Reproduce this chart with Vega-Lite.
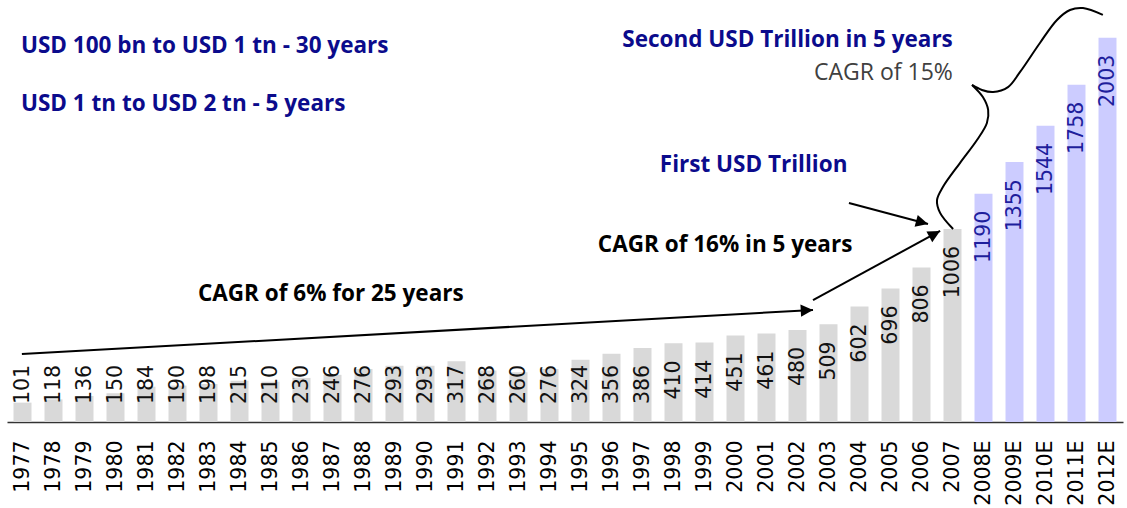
{
  "$schema": "https://vega.github.io/schema/vega-lite/v6.json",
  "width": 1116,
  "height": 422,
  "autosize": {"type": "none"},
  "padding": {"left": 7, "right": 4, "top": 0, "bottom": 86},
  "background": "white",
  "config": {"view": {"stroke": null}, "font": "Open Sans"},
  "datasets": {
    "bars": [
      {"year": "1977", "value": 101, "type": "actual"},
      {"year": "1978", "value": 118, "type": "actual"},
      {"year": "1979", "value": 136, "type": "actual"},
      {"year": "1980", "value": 150, "type": "actual"},
      {"year": "1981", "value": 184, "type": "actual"},
      {"year": "1982", "value": 190, "type": "actual"},
      {"year": "1983", "value": 198, "type": "actual"},
      {"year": "1984", "value": 215, "type": "actual"},
      {"year": "1985", "value": 210, "type": "actual"},
      {"year": "1986", "value": 230, "type": "actual"},
      {"year": "1987", "value": 246, "type": "actual"},
      {"year": "1988", "value": 276, "type": "actual"},
      {"year": "1989", "value": 293, "type": "actual"},
      {"year": "1990", "value": 293, "type": "actual"},
      {"year": "1991", "value": 317, "type": "actual"},
      {"year": "1992", "value": 268, "type": "actual"},
      {"year": "1993", "value": 260, "type": "actual"},
      {"year": "1994", "value": 276, "type": "actual"},
      {"year": "1995", "value": 324, "type": "actual"},
      {"year": "1996", "value": 356, "type": "actual"},
      {"year": "1997", "value": 386, "type": "actual"},
      {"year": "1998", "value": 410, "type": "actual"},
      {"year": "1999", "value": 414, "type": "actual"},
      {"year": "2000", "value": 451, "type": "actual"},
      {"year": "2001", "value": 461, "type": "actual"},
      {"year": "2002", "value": 480, "type": "actual"},
      {"year": "2003", "value": 509, "type": "actual"},
      {"year": "2004", "value": 602, "type": "actual"},
      {"year": "2005", "value": 696, "type": "actual"},
      {"year": "2006", "value": 806, "type": "actual"},
      {"year": "2007", "value": 1006, "type": "actual"},
      {"year": "2008E", "value": 1190, "type": "estimate"},
      {"year": "2009E", "value": 1355, "type": "estimate"},
      {"year": "2010E", "value": 1544, "type": "estimate"},
      {"year": "2011E", "value": 1758, "type": "estimate"},
      {"year": "2012E", "value": 2003, "type": "estimate"}
    ],
    "notes": [
      {"group": "summary", "text": "USD 100 bn to USD 1 tn - 30 years", "x": 1976.95, "y": 1924},
      {"group": "summary", "text": "USD 1 tn to USD 2 tn - 5 years", "x": 1976.95, "y": 1623},
      {"group": "second", "text": "Second USD Trillion in 5 years", "x": 2007.01, "y": 1953},
      {"group": "second_cagr", "text": "CAGR of 15%", "x": 2007.01, "y": 1783},
      {"group": "summary", "text": "First USD Trillion", "x": 1997.56, "y": 1305},
      {"group": "cagr", "text": "CAGR of 16% in 5 years", "x": 1995.56, "y": 888},
      {"group": "cagr", "text": "CAGR of 6% for 25 years", "x": 1982.66, "y": 632}
    ],
    "strokes": [
      {"path": "a1", "i": 0, "x": 1976.98, "y": 354},
      {"path": "a1", "i": 1, "x": 2002.5, "y": 584},
      {"path": "a2", "i": 0, "x": 2002.5, "y": 636},
      {"path": "a2", "i": 1, "x": 2006.6, "y": 996},
      {"path": "a3", "i": 0, "x": 2003.66, "y": 1142},
      {"path": "a3", "i": 1, "x": 2006.21, "y": 1032},
      {"path": "brace_low", "i": 0, "x": 2007.02, "y": 1006},
      {"path": "brace_low", "i": 1, "x": 2006.6, "y": 1090},
      {"path": "brace_low", "i": 2, "x": 2006.5, "y": 1157},
      {"path": "brace_low", "i": 3, "x": 2006.69, "y": 1225},
      {"path": "brace_low", "i": 4, "x": 2007.24, "y": 1350},
      {"path": "brace_low", "i": 5, "x": 2007.79, "y": 1470},
      {"path": "brace_low", "i": 6, "x": 2008.11, "y": 1559},
      {"path": "brace_low", "i": 7, "x": 2008.15, "y": 1627},
      {"path": "brace_low", "i": 8, "x": 2007.98, "y": 1694},
      {"path": "brace_low", "i": 9, "x": 2007.63, "y": 1757},
      {"path": "brace_up", "i": 0, "x": 2007.63, "y": 1757},
      {"path": "brace_up", "i": 1, "x": 2007.95, "y": 1731},
      {"path": "brace_up", "i": 2, "x": 2008.31, "y": 1720},
      {"path": "brace_up", "i": 3, "x": 2008.79, "y": 1746},
      {"path": "brace_up", "i": 4, "x": 2009.18, "y": 1825},
      {"path": "brace_up", "i": 5, "x": 2009.82, "y": 1976},
      {"path": "brace_up", "i": 6, "x": 2010.37, "y": 2096},
      {"path": "brace_up", "i": 7, "x": 2010.79, "y": 2148},
      {"path": "brace_up", "i": 8, "x": 2011.21, "y": 2158},
      {"path": "brace_up", "i": 9, "x": 2011.85, "y": 2122}
    ]
  },
  "layer": [
    {
      "data": {"name": "bars"},
      "encoding": {
        "x": {
          "field": "year", "type": "ordinal", "sort": null,
          "scale": {"paddingInner": 0.42, "paddingOuter": 0.21},
          "axis": {
            "title": null, "labelAngle": -90, "labelFont": "DejaVu Sans", "labelFontSize": 20.5,
            "labelColor": "#000000", "ticks": false, "labelPadding": 18,
            "domainColor": "#333333", "domainWidth": 1.5, "grid": false
          }
        }
      },
      "layer": [
        {
          "mark": {"type": "bar"},
          "encoding": {
            "y": {"field": "value", "type": "quantitative", "scale": {"domain": [0, 2200], "nice": false}, "axis": null},
            "color": {"field": "type", "type": "nominal", "scale": {"domain": ["actual", "estimate"], "range": ["#D9D9D9", "#CCCCFF"]}, "legend": null}
          }
        },
        {
          "transform": [{"filter": "datum.value >= 400"}],
          "mark": {"type": "text", "angle": 270, "align": "right", "baseline": "middle", "dx": -17, "font": "DejaVu Sans", "fontSize": 20.5},
          "encoding": {
            "y": {"field": "value", "type": "quantitative", "scale": {"domain": [0, 2200], "nice": false}, "axis": null},
            "text": {"field": "value", "type": "quantitative"},
            "color": {"field": "type", "type": "nominal", "scale": {"domain": ["actual", "estimate"], "range": ["#111111", "#1E1E9C"]}, "legend": null}
          }
        },
        {
          "transform": [{"filter": "datum.value < 400"}],
          "mark": {"type": "text", "angle": 270, "align": "left", "baseline": "middle", "dx": 18, "font": "DejaVu Sans", "fontSize": 20.5},
          "encoding": {
            "y": {"datum": 0, "type": "quantitative", "scale": {"domain": [0, 2200], "nice": false}, "axis": null},
            "text": {"field": "value", "type": "quantitative"},
            "color": {"field": "type", "type": "nominal", "scale": {"domain": ["actual", "estimate"], "range": ["#111111", "#1E1E9C"]}, "legend": null}
          }
        }
      ],
      "resolve": {"scale": {"color": "independent"}}
    },
    {
      "encoding": {
        "x": {"field": "x", "type": "quantitative", "scale": {"domain": [1976.5, 2012.5], "nice": false, "zero": false}, "axis": null},
        "y": {"field": "y", "type": "quantitative", "scale": {"domain": [0, 2200], "nice": false}, "axis": null}
      },
      "layer": [
        {
          "data": {"name": "strokes"},
          "transform": [{"filter": "datum.path == 'a1' || datum.path == 'a2' || datum.path == 'a3'"}],
          "mark": {"type": "line", "color": "#000000", "strokeWidth": 2, "clip": false},
          "encoding": {"detail": {"field": "path"}, "order": {"field": "i", "type": "quantitative"}}
        },
        {
          "data": {"name": "strokes"},
          "transform": [{"filter": "datum.path == 'brace_low' || datum.path == 'brace_up'"}],
          "mark": {"type": "line", "color": "#000000", "strokeWidth": 2, "interpolate": "catmull-rom", "clip": false},
          "encoding": {"detail": {"field": "path"}, "order": {"field": "i", "type": "quantitative"}}
        },
        {
          "data": {"name": "strokes"},
          "transform": [{"filter": "datum.path == 'a1' && datum.i == 1"}],
          "mark": {"type": "point", "shape": "M0,0L-1,-0.5L-1,0.5Z", "filled": true, "color": "#000000", "opacity": 1, "size": 600, "angle": 356.8, "strokeWidth": 0}
        },
        {
          "data": {"name": "strokes"},
          "transform": [{"filter": "datum.path == 'a2' && datum.i == 1"}],
          "mark": {"type": "point", "shape": "M0,0L-1,-0.5L-1,0.5Z", "filled": true, "color": "#000000", "opacity": 1, "size": 600, "angle": 331.5, "strokeWidth": 0}
        },
        {
          "data": {"name": "strokes"},
          "transform": [{"filter": "datum.path == 'a3' && datum.i == 1"}],
          "mark": {"type": "point", "shape": "M0,0L-1,-0.5L-1,0.5Z", "filled": true, "color": "#000000", "opacity": 1, "size": 600, "angle": 14.9, "strokeWidth": 0}
        },
        {
          "data": {"name": "notes"},
          "transform": [{"filter": "datum.group == 'summary'"}],
          "mark": {"type": "text", "align": "left", "baseline": "alphabetic", "font": "Open Sans", "fontWeight": "bold", "fontSize": 22.5, "color": "#0B0B8C"},
          "encoding": {"text": {"field": "text"}}
        },
        {
          "data": {"name": "notes"},
          "transform": [{"filter": "datum.group == 'second'"}],
          "mark": {"type": "text", "align": "right", "baseline": "alphabetic", "font": "Open Sans", "fontWeight": "bold", "fontSize": 22.5, "color": "#0B0B8C"},
          "encoding": {"text": {"field": "text"}}
        },
        {
          "data": {"name": "notes"},
          "transform": [{"filter": "datum.group == 'second_cagr'"}],
          "mark": {"type": "text", "align": "right", "baseline": "alphabetic", "font": "Open Sans", "fontSize": 23, "color": "#404040"},
          "encoding": {"text": {"field": "text"}}
        },
        {
          "data": {"name": "notes"},
          "transform": [{"filter": "datum.group == 'cagr'"}],
          "mark": {"type": "text", "align": "left", "baseline": "alphabetic", "font": "Open Sans", "fontWeight": "bold", "fontSize": 22.5, "color": "#000000"},
          "encoding": {"text": {"field": "text"}}
        }
      ]
    }
  ],
  "resolve": {"scale": {"x": "independent"}}
}
